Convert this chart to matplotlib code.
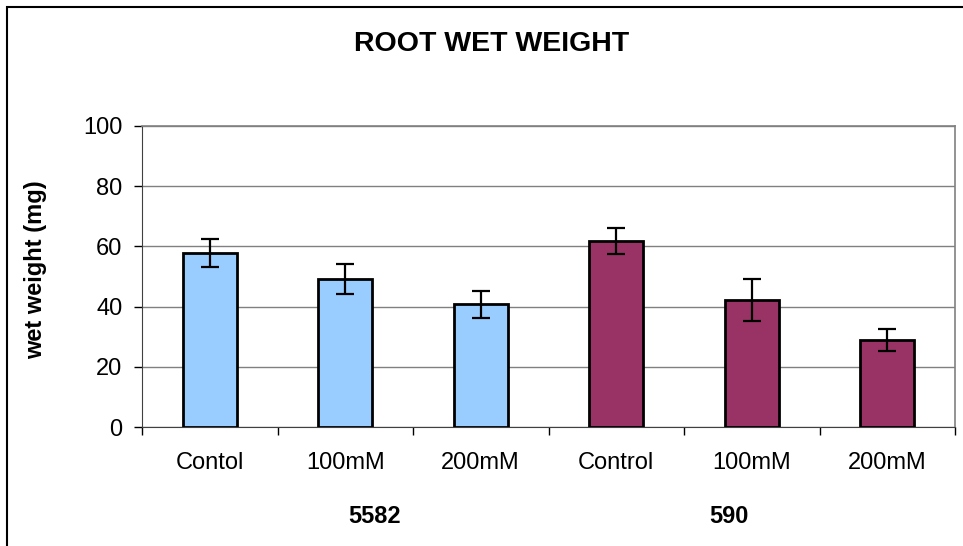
import numpy as np
import matplotlib.pyplot as plt
from matplotlib.patches import Rectangle

plt.rcParams['font.family'] = ['Liberation Sans', 'DejaVu Sans']

# data
categories = ["Contol", "100mM", "200mM", "Control", "100mM", "200mM"]
weights = [57.8, 49.1, 40.7, 61.8, 42.2, 28.8]
errors = [4.8, 5.0, 4.5, 4.2, 7.0, 3.7]
colors = ["#99CCFF"] * 3 + ["#993366"] * 3
groups = ["5582", "590"]
group_pos = [1.22, 3.83]

fig = plt.figure(figsize=(9.63, 5.46), dpi=100)
ax = fig.add_axes([142 / 963, 1 - 427 / 546, (955 - 142) / 963, (427 - 126) / 546])

x = np.arange(len(categories))
ax.bar(x, weights, width=0.4, color=colors, edgecolor="black", linewidth=2, zorder=3)
ax.errorbar(x, weights, yerr=errors, fmt="none", ecolor="black",
            elinewidth=1.6, capsize=6.5, capthick=1.6, zorder=4)

ax.set_xlim(-0.5, 5.5)
ax.set_ylim(0, 100)
ax.set_yticks(np.arange(0, 101, 20))
ax.yaxis.grid(True, color="#808080", linewidth=1, zorder=0)
ax.tick_params(axis="y", labelsize=17, length=6, direction="out", width=1, pad=8)

# category labels between boundary ticks
ax.set_xticks(np.arange(-0.5, 6, 1))
ax.set_xticklabels([])
ax.tick_params(axis="x", length=6, width=1, direction="out")
for i, lab in enumerate(categories):
    ax.text(i, -13.9, lab, ha="center", va="baseline", fontsize=17)
for p, g in zip(group_pos, groups):
    ax.text(p, -31.9, g, ha="center", va="baseline", fontsize=17, fontweight="bold")

for s in ["top", "right"]:
    ax.spines[s].set_color("#808080")
    ax.spines[s].set_linewidth(1.2)
ax.spines["left"].set_color("#404040")
ax.spines["bottom"].set_color("#404040")

fig.text(36 / 963, 1 - 270 / 546, "wet weight (mg)", rotation=90, ha="center",
         va="center", fontsize=17, fontweight="bold")
fig.text(492 / 963, 1 - 44 / 546, "ROOT WET WEIGHT", ha="center", va="center",
         fontsize=20.5, fontweight="bold")

# chart frame (cropped at right and bottom)
fig.patches.append(Rectangle((7 / 963, -0.1), 1.2, 1 - 7 / 546 + 0.1,
                             transform=fig.transFigure, fill=False,
                             edgecolor="black", linewidth=1.5))

fig.savefig("out.png", dpi=100)
